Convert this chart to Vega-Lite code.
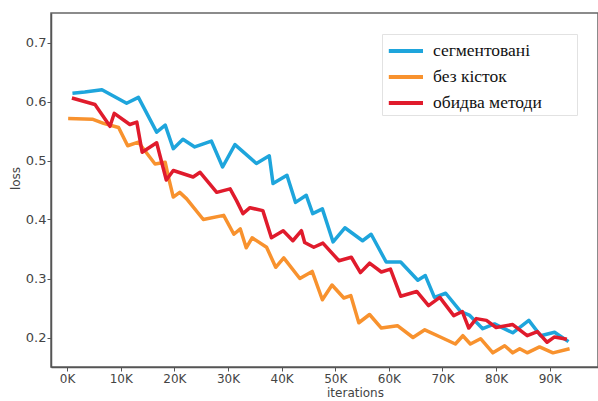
{
  "$schema": "https://vega.github.io/schema/vega-lite/v6.json",
  "autosize": {"type": "none"},
  "width": 547,
  "height": 354,
  "padding": {"left": 51, "top": 13, "right": 0, "bottom": 34},
  "background": "white",
  "config": {
    "view": {"stroke": "#666666", "strokeWidth": 1.5},
    "axis": {
      "grid": false,
      "domainColor": "#555555",
      "domainWidth": 1.5,
      "tickColor": "#555555",
      "tickSize": 4,
      "tickWidth": 1,
      "labelFont": "DejaVu Sans",
      "labelColor": "#444444",
      "titleFont": "DejaVu Sans",
      "titleColor": "#444444",
      "titleFontWeight": "normal",
      "titleFontSize": 12
    }
  },
  "data": {
    "values": [
      {"series": "сегментовані", "it": 1000, "loss": 0.614},
      {"series": "сегментовані", "it": 3300, "loss": 0.616},
      {"series": "сегментовані", "it": 6500, "loss": 0.620},
      {"series": "сегментовані", "it": 11100, "loss": 0.597},
      {"series": "сегментовані", "it": 13300, "loss": 0.607},
      {"series": "сегментовані", "it": 16700, "loss": 0.548},
      {"series": "сегментовані", "it": 18300, "loss": 0.560},
      {"series": "сегментовані", "it": 19800, "loss": 0.520},
      {"series": "сегментовані", "it": 21600, "loss": 0.536},
      {"series": "сегментовані", "it": 23800, "loss": 0.523},
      {"series": "сегментовані", "it": 26900, "loss": 0.533},
      {"series": "сегментовані", "it": 29000, "loss": 0.489},
      {"series": "сегментовані", "it": 31300, "loss": 0.527},
      {"series": "сегментовані", "it": 35300, "loss": 0.495},
      {"series": "сегментовані", "it": 37700, "loss": 0.508},
      {"series": "сегментовані", "it": 38400, "loss": 0.461},
      {"series": "сегментовані", "it": 41000, "loss": 0.475},
      {"series": "сегментовані", "it": 42600, "loss": 0.429},
      {"series": "сегментовані", "it": 44600, "loss": 0.441},
      {"series": "сегментовані", "it": 45800, "loss": 0.410},
      {"series": "сегментовані", "it": 47600, "loss": 0.418},
      {"series": "сегментовані", "it": 49600, "loss": 0.362},
      {"series": "сегментовані", "it": 51800, "loss": 0.386},
      {"series": "сегментовані", "it": 55100, "loss": 0.364},
      {"series": "сегментовані", "it": 56700, "loss": 0.375},
      {"series": "сегментовані", "it": 59500, "loss": 0.328},
      {"series": "сегментовані", "it": 62200, "loss": 0.328},
      {"series": "сегментовані", "it": 65400, "loss": 0.297},
      {"series": "сегментовані", "it": 66800, "loss": 0.305},
      {"series": "сегментовані", "it": 68500, "loss": 0.268},
      {"series": "сегментовані", "it": 70600, "loss": 0.275},
      {"series": "сегментовані", "it": 73400, "loss": 0.244},
      {"series": "сегментовані", "it": 75000, "loss": 0.238},
      {"series": "сегментовані", "it": 77500, "loss": 0.215},
      {"series": "сегментовані", "it": 79700, "loss": 0.223},
      {"series": "сегментовані", "it": 83100, "loss": 0.208},
      {"series": "сегментовані", "it": 86100, "loss": 0.229},
      {"series": "сегментовані", "it": 88300, "loss": 0.203},
      {"series": "сегментовані", "it": 90900, "loss": 0.209},
      {"series": "сегментовані", "it": 93500, "loss": 0.193},
      {"series": "без кісток", "it": 200, "loss": 0.571},
      {"series": "без кісток", "it": 4700, "loss": 0.570},
      {"series": "без кісток", "it": 6800, "loss": 0.563},
      {"series": "без кісток", "it": 9600, "loss": 0.556},
      {"series": "без кісток", "it": 11300, "loss": 0.525},
      {"series": "без кісток", "it": 13300, "loss": 0.531},
      {"series": "без кісток", "it": 16400, "loss": 0.494},
      {"series": "без кісток", "it": 18300, "loss": 0.497},
      {"series": "без кісток", "it": 18900, "loss": 0.472},
      {"series": "без кісток", "it": 19800, "loss": 0.438},
      {"series": "без кісток", "it": 21000, "loss": 0.446},
      {"series": "без кісток", "it": 22300, "loss": 0.435},
      {"series": "без кісток", "it": 25400, "loss": 0.400},
      {"series": "без кісток", "it": 29200, "loss": 0.407},
      {"series": "без кісток", "it": 31100, "loss": 0.375},
      {"series": "без кісток", "it": 32300, "loss": 0.384},
      {"series": "без кісток", "it": 33400, "loss": 0.352},
      {"series": "без кісток", "it": 34500, "loss": 0.369},
      {"series": "без кісток", "it": 37200, "loss": 0.353},
      {"series": "без кісток", "it": 38900, "loss": 0.319},
      {"series": "без кісток", "it": 40400, "loss": 0.335},
      {"series": "без кісток", "it": 43400, "loss": 0.300},
      {"series": "без кісток", "it": 45700, "loss": 0.312},
      {"series": "без кісток", "it": 47600, "loss": 0.264},
      {"series": "без кісток", "it": 49400, "loss": 0.289},
      {"series": "без кісток", "it": 51600, "loss": 0.267},
      {"series": "без кісток", "it": 52900, "loss": 0.271},
      {"series": "без кісток", "it": 54400, "loss": 0.225},
      {"series": "без кісток", "it": 56400, "loss": 0.239},
      {"series": "без кісток", "it": 58600, "loss": 0.216},
      {"series": "без кісток", "it": 61600, "loss": 0.220},
      {"series": "без кісток", "it": 64500, "loss": 0.200},
      {"series": "без кісток", "it": 66700, "loss": 0.213},
      {"series": "без кісток", "it": 69800, "loss": 0.200},
      {"series": "без кісток", "it": 72400, "loss": 0.189},
      {"series": "без кісток", "it": 73800, "loss": 0.203},
      {"series": "без кісток", "it": 75200, "loss": 0.189},
      {"series": "без кісток", "it": 77100, "loss": 0.198},
      {"series": "без кісток", "it": 79400, "loss": 0.174},
      {"series": "без кісток", "it": 81600, "loss": 0.186},
      {"series": "без кісток", "it": 83100, "loss": 0.174},
      {"series": "без кісток", "it": 84400, "loss": 0.181},
      {"series": "без кісток", "it": 85800, "loss": 0.174},
      {"series": "без кісток", "it": 88100, "loss": 0.184},
      {"series": "без кісток", "it": 90600, "loss": 0.174},
      {"series": "без кісток", "it": 93700, "loss": 0.181},
      {"series": "обидва методи", "it": 900, "loss": 0.606},
      {"series": "обидва методи", "it": 5200, "loss": 0.595},
      {"series": "обидва методи", "it": 8000, "loss": 0.558},
      {"series": "обидва методи", "it": 8800, "loss": 0.580},
      {"series": "обидва методи", "it": 11700, "loss": 0.561},
      {"series": "обидва методи", "it": 13000, "loss": 0.565},
      {"series": "обидва методи", "it": 14000, "loss": 0.514},
      {"series": "обидва методи", "it": 16700, "loss": 0.530},
      {"series": "обидва методи", "it": 18500, "loss": 0.467},
      {"series": "обидва методи", "it": 19800, "loss": 0.483},
      {"series": "обидва методи", "it": 23500, "loss": 0.472},
      {"series": "обидва методи", "it": 24800, "loss": 0.480},
      {"series": "обидва методи", "it": 27900, "loss": 0.446},
      {"series": "обидва методи", "it": 30400, "loss": 0.452},
      {"series": "обидва методи", "it": 31600, "loss": 0.432},
      {"series": "обидва методи", "it": 32800, "loss": 0.410},
      {"series": "обидва методи", "it": 34100, "loss": 0.420},
      {"series": "обидва методи", "it": 36500, "loss": 0.415},
      {"series": "обидва методи", "it": 38100, "loss": 0.369},
      {"series": "обидва методи", "it": 40300, "loss": 0.381},
      {"series": "обидва методи", "it": 42100, "loss": 0.364},
      {"series": "обидва методи", "it": 43700, "loss": 0.381},
      {"series": "обидва методи", "it": 44300, "loss": 0.361},
      {"series": "обидва методи", "it": 46000, "loss": 0.353},
      {"series": "обидва методи", "it": 47700, "loss": 0.360},
      {"series": "обидва методи", "it": 50700, "loss": 0.330},
      {"series": "обидва методи", "it": 53000, "loss": 0.336},
      {"series": "обидва методи", "it": 54700, "loss": 0.310},
      {"series": "обидва методи", "it": 56400, "loss": 0.326},
      {"series": "обидва методи", "it": 58600, "loss": 0.311},
      {"series": "обидва методи", "it": 60300, "loss": 0.316},
      {"series": "обидва методи", "it": 62200, "loss": 0.270},
      {"series": "обидва методи", "it": 65200, "loss": 0.278},
      {"series": "обидва методи", "it": 67400, "loss": 0.254},
      {"series": "обидва методи", "it": 69500, "loss": 0.268},
      {"series": "обидва методи", "it": 72100, "loss": 0.237},
      {"series": "обидва методи", "it": 73700, "loss": 0.244},
      {"series": "обидва методи", "it": 74900, "loss": 0.216},
      {"series": "обидва методи", "it": 76300, "loss": 0.232},
      {"series": "обидва методи", "it": 78200, "loss": 0.229},
      {"series": "обидва методи", "it": 80000, "loss": 0.217},
      {"series": "обидва методи", "it": 83100, "loss": 0.222},
      {"series": "обидва методи", "it": 85800, "loss": 0.203},
      {"series": "обидва методи", "it": 87700, "loss": 0.210},
      {"series": "обидва методи", "it": 89500, "loss": 0.192},
      {"series": "обидва методи", "it": 90900, "loss": 0.201},
      {"series": "обидва методи", "it": 93200, "loss": 0.197}
    ]
  },
  "mark": {"type": "line", "strokeWidth": 3.5, "strokeJoin": "round", "clip": true},
  "encoding": {
    "x": {
      "field": "it",
      "type": "quantitative",
      "scale": {"domain": [-3000, 99000], "nice": false, "zero": false},
      "axis": {
        "values": [0, 10000, 20000, 30000, 40000, 50000, 60000, 70000, 80000, 90000],
        "labelExpr": "format(datum.value / 1000, 'd') + 'K'",
        "labelFontSize": 12,
        "labelPadding": 2,
        "title": "iterations",
        "titleX": 304,
        "titleY": 20,
        "titleBaseline": "top",
        "titleAnchor": "middle"
      }
    },
    "y": {
      "field": "loss",
      "type": "quantitative",
      "scale": {"domain": [0.15, 0.75], "nice": false, "zero": false},
      "axis": {
        "values": [0.2, 0.3, 0.4, 0.5, 0.6, 0.7],
        "format": ".1f",
        "labelFontSize": 13,
        "labelPadding": 1,
        "title": "loss",
        "titleX": -36,
        "titleY": 165,
        "titleAngle": 270,
        "titleBaseline": "middle",
        "titleAnchor": "middle"
      }
    },
    "color": {
      "field": "series",
      "type": "nominal",
      "sort": ["сегментовані", "без кісток", "обидва методи"],
      "scale": {
        "domain": ["сегментовані", "без кісток", "обидва методи"],
        "range": ["#1ea5dc", "#f8922e", "#e01b2c"]
      },
      "legend": {
        "title": " ",
        "titleOrient": "right",
        "titlePadding": 32,
        "orient": "none",
        "legendX": 331,
        "legendY": 21,
        "padding": 3,
        "fillColor": "white",
        "strokeColor": "#e2e2e2",
        "symbolType": "M-0.85,0L2,0",
        "symbolSize": 576,
        "symbolStrokeWidth": 4,
        "rowPadding": 3,
        "labelOffset": 20,
        "labelFont": "Liberation Serif",
        "labelFontSize": 17.5,
        "labelColor": "#111111",
        "labelLimit": 300
      }
    }
  }
}
